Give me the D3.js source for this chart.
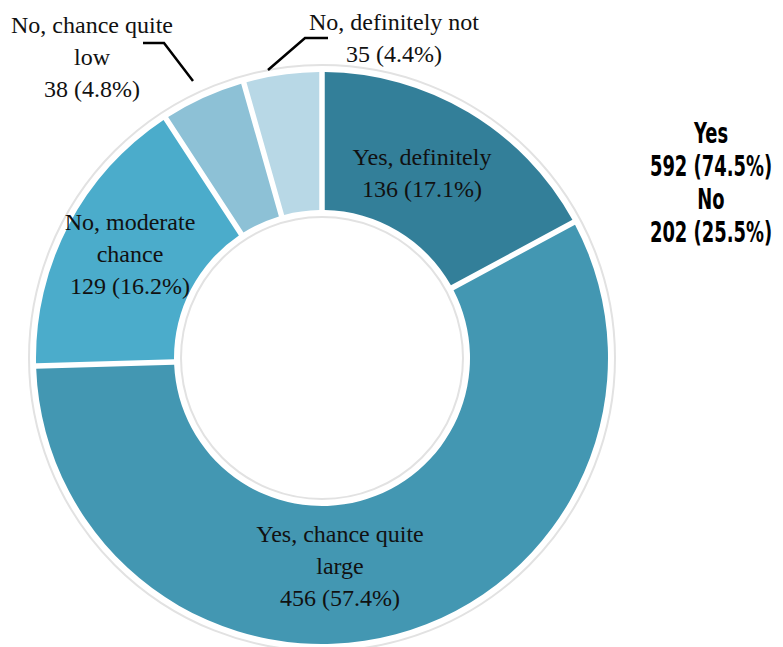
<!DOCTYPE html>
<head>
  <style>
    body { margin: 0; background: #fff; }
    .lab { font-family: "Liberation Serif", "Times New Roman", serif; font-size: 24px; fill: #111; }
    .tot { font-family: "DejaVu Sans", sans-serif; font-weight: bold; font-size: 28px; fill: #000; }
  </style>
  <title>Donut</title>
</head>
<body>
  <script src="https://cdn.jsdelivr.net/npm/d3@7"></script>
  <svg width="783" height="647"></svg>
  <script>
    // data
    var categories = ["Yes, definitely", "Yes, chance quite large", "No, moderate chance", "No, chance quite low", "No, definitely not"];
    var counts = [136, 456, 129, 38, 35];
    var pcts = ["17.1%", "57.4%", "16.2%", "4.8%", "4.4%"];
    var colors = ["#337f99", "#4397b2", "#4baccb", "#8dc1d6", "#b8d8e6"];
    var totals = ["Yes", "592 (74.5%)", "No", "202 (25.5%)"];

    var svg = d3.select("svg"),
        cx = 322, cy = 358,
        outer = 286, inner = 148;

    var g = svg.append("g").attr("transform", "translate(" + cx + "," + cy + ")");

    // faint rings around the donut
    g.append("circle").attr("r", outer + 7).attr("fill", "none").attr("stroke", "#e2e2e2").attr("stroke-width", 2);
    g.append("circle").attr("r", inner - 7).attr("fill", "none").attr("stroke", "#e2e2e2").attr("stroke-width", 2);

    var pie = d3.pie().sort(null).value(function(d) { return d; });
    var arc = d3.arc().innerRadius(inner).outerRadius(outer).padAngle(0.022).padRadius(250);

    g.selectAll(".slice")
     .data(pie(counts))
     .enter().append("path")
     .attr("class", "slice")
     .attr("d", arc)
     .attr("fill", function(d, i) { return colors[i]; });

    // labels (lines, position relative to center)
    var labels = [
      { lines: ["Yes, definitely", counts[0] + " (" + pcts[0] + ")"], x: 100, y: -193 },
      { lines: ["Yes, chance quite", "large", counts[1] + " (" + pcts[1] + ")"], x: 18, y: 184 },
      { lines: ["No, moderate", "chance", counts[2] + " (" + pcts[2] + ")"], x: -192, y: -128 },
      { lines: ["No, chance quite", "low", counts[3] + " (" + pcts[3] + ")"], x: -230, y: -325 },
      { lines: ["No, definitely not", counts[4] + " (" + pcts[4] + ")"], x: 72, y: -328 }
    ];

    labels.forEach(function(l) {
      var t = g.append("text").attr("class", "lab").attr("text-anchor", "middle");
      l.lines.forEach(function(s, i) {
        t.append("tspan").attr("x", l.x).attr("y", l.y + i * 32).text(s);
      });
    });

    // leader lines
    var leader = d3.line();
    g.append("path")
     .attr("d", leader([[-179, -315], [-158, -315], [-129, -277]]))
     .attr("fill", "none").attr("stroke", "#000").attr("stroke-width", 2.5);
    g.append("path")
     .attr("d", leader([[-54, -288], [-17, -320], [6, -320]]))
     .attr("fill", "none").attr("stroke", "#000").attr("stroke-width", 2.5);

    // totals on the right, squeezed to look condensed
    var tt = svg.append("text").attr("class", "tot")
                .attr("text-anchor", "middle")
                .attr("transform", "translate(711,0) scale(0.64,1)");
    totals.forEach(function(s, i) {
      tt.append("tspan").attr("x", 0).attr("y", 143 + i * 33).text(s);
    });
  </script>
</body>
